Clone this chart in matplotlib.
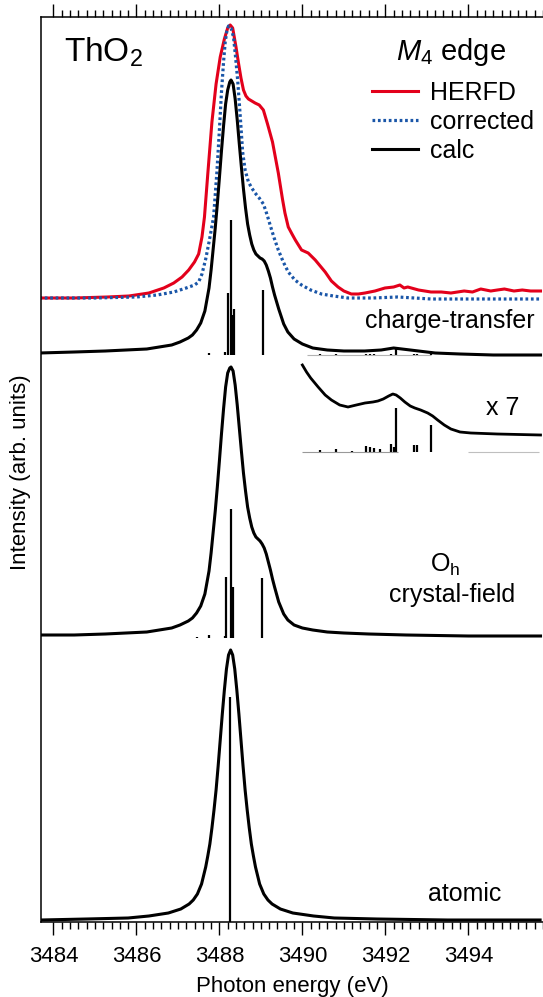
import numpy as np
import matplotlib
matplotlib.use("Agg")
import matplotlib.pyplot as plt

plt.rcParams['font.family'] = ['Liberation Sans', 'DejaVu Sans']
plt.rcParams['mathtext.fontset'] = 'custom'
plt.rcParams['mathtext.rm'] = 'Liberation Sans'
plt.rcParams['mathtext.it'] = 'Liberation Sans:italic'
plt.rcParams['lines.solid_joinstyle'] = 'round'

# HERFD measured spectrum (eV, arb.)
e_herfd = [3483.66, 3484.5, 3485.3, 3485.82, 3486.30, 3486.66, 3486.90, 3487.10, 3487.26,
           3487.40, 3487.50, 3487.58, 3487.64, 3487.72, 3487.82, 3487.92, 3488.02, 3488.12,
           3488.20, 3488.26, 3488.32, 3488.40, 3488.46, 3488.52, 3488.58, 3488.64, 3488.70,
           3488.86, 3488.96, 3489.06, 3489.16, 3489.28, 3489.42, 3489.52, 3489.58, 3489.66,
           3489.75, 3489.83, 3489.98, 3490.14, 3490.31, 3490.45, 3490.55, 3490.70, 3490.86,
           3491.00, 3491.18, 3491.35, 3491.51, 3491.75, 3491.99, 3492.20, 3492.35, 3492.45,
           3492.54, 3492.80, 3493.10, 3493.35, 3493.58, 3493.90, 3494.10, 3494.30, 3494.54,
           3494.70, 3494.87, 3495.10, 3495.30, 3495.50, 3495.74]
i_herfd = [624, 624, 625, 626, 629, 634, 639, 645, 652,
           660, 668, 685, 705, 748, 800, 838, 865, 883,
           894, 897, 894, 875, 859, 844, 832, 826, 823,
           819, 817, 812, 798, 780, 749, 723, 709, 695,
           688, 682, 672, 669, 662, 655, 650, 641, 635,
           631, 628, 628, 629, 631, 634, 635, 637, 634,
           635, 632, 630, 630, 629, 631, 630, 633, 631,
           632, 633, 631, 632, 631, 631]

# self-absorption corrected
e_corr = [3483.66, 3485.0, 3486.0, 3486.5, 3486.9, 3487.2, 3487.40, 3487.50, 3487.58,
          3487.67, 3487.76, 3487.86, 3487.94, 3488.00, 3488.05, 3488.10, 3488.14, 3488.18,
          3488.22, 3488.28, 3488.34, 3488.39, 3488.44, 3488.48, 3488.52, 3488.56, 3488.62,
          3488.70, 3488.78, 3488.86, 3488.96, 3489.06, 3489.12, 3489.18, 3489.23, 3489.32,
          3489.42, 3489.54, 3489.66, 3489.82, 3489.98, 3490.20, 3490.46, 3490.75, 3491.10,
          3491.7, 3492.30, 3493.10, 3494.5, 3495.74]
i_corr = [624, 624, 625, 627, 630, 634, 637, 640, 648,
          663, 682, 705, 750, 792, 830, 860, 880, 891,
          896, 894, 885, 865, 842, 819, 795, 770, 752,
          740, 734, 729, 724, 718, 711, 703, 696, 684,
          672, 660, 650, 642, 637, 632, 628, 626, 624,
          624, 625, 623, 623, 623]

# charge-transfer calculation
e_ct = [3483.66, 3484.50, 3485.25, 3485.75, 3486.25, 3486.55, 3486.85, 3487.05, 3487.25,
        3487.35, 3487.45, 3487.55, 3487.65, 3487.75, 3487.80, 3487.85, 3487.90, 3487.95,
        3488.00, 3488.05, 3488.10, 3488.15, 3488.20, 3488.25, 3488.28, 3488.33, 3488.38,
        3488.43, 3488.48, 3488.53, 3488.58, 3488.63, 3488.68, 3488.73, 3488.78, 3488.83,
        3488.88, 3488.93, 3488.98, 3489.03, 3489.08, 3489.13, 3489.18, 3489.23, 3489.28,
        3489.33, 3489.43, 3489.55, 3489.65, 3489.80, 3490.00, 3490.25, 3490.60, 3491.00,
        3491.50, 3491.90, 3492.20, 3492.40, 3492.80, 3493.20, 3493.80, 3494.60, 3495.74]
i_ct = [569, 570, 571, 572, 573, 575, 577, 580, 584,
        587, 592, 599, 611, 634, 652, 673, 694, 718,
        744, 771, 796, 818, 832, 840, 842, 838, 823,
        802, 778, 755, 733, 714, 698, 687, 678, 672,
        668, 666, 664, 663, 661, 657, 651, 644, 635,
        627, 613, 598, 590, 583, 578, 574, 572, 571,
        571, 572, 574, 573, 571, 569, 568, 567, 567]

# charge-transfer x 7 inset
e_x7 = [3490.00, 3490.10, 3490.20, 3490.38, 3490.55, 3490.70, 3490.90, 3491.10, 3491.30,
        3491.51, 3491.70, 3491.82, 3491.95, 3492.08, 3492.18, 3492.26, 3492.36, 3492.47,
        3492.60, 3492.71, 3492.85, 3493.02, 3493.14, 3493.26, 3493.42, 3493.58, 3493.80,
        3494.06, 3494.70, 3495.74]
i_x7 = [557, 550, 544, 535, 527, 522, 517, 515, 517,
        519, 520, 521, 523, 526, 528, 527, 524, 520,
        516, 514, 512, 509, 506, 502, 497, 493, 490,
        489, 488, 487]

# Oh crystal-field calculation
e_cf = [3483.66, 3484.50, 3485.25, 3485.75, 3486.25, 3486.55, 3486.85, 3487.05, 3487.25,
        3487.35, 3487.45, 3487.55, 3487.65, 3487.75, 3487.80, 3487.85, 3487.90, 3487.95,
        3488.00, 3488.05, 3488.10, 3488.15, 3488.20, 3488.25, 3488.28, 3488.33, 3488.38,
        3488.43, 3488.48, 3488.53, 3488.58, 3488.63, 3488.68, 3488.73, 3488.78, 3488.83,
        3488.88, 3488.93, 3488.98, 3489.03, 3489.08, 3489.13, 3489.18, 3489.23, 3489.28,
        3489.33, 3489.43, 3489.55, 3489.65, 3489.80, 3490.00, 3490.25, 3490.60, 3491.00,
        3491.60, 3492.50, 3494.00, 3495.74]
i_cf = [287, 287, 288, 289, 290, 292, 294, 297, 301,
        304, 309, 316, 328, 351, 369, 390, 411, 435,
        461, 488, 513, 535, 549, 554, 555, 551, 537,
        517, 494, 471, 449, 431, 415, 404, 395, 389,
        385, 383, 381, 378, 374, 368, 360, 352, 343,
        335, 320, 308, 302, 297, 294, 292, 290, 289,
        288, 287, 286, 286]

# atomic calculation
e_at = [3483.70, 3484.80, 3485.80, 3486.30, 3486.77, 3487.07, 3487.27, 3487.37, 3487.47,
        3487.57, 3487.67, 3487.72, 3487.77, 3487.82, 3487.87, 3487.92, 3487.97, 3488.02,
        3488.07, 3488.12, 3488.17, 3488.22, 3488.27, 3488.32, 3488.37, 3488.42, 3488.47,
        3488.52, 3488.57, 3488.62, 3488.67, 3488.72, 3488.77, 3488.82, 3488.87, 3488.97,
        3489.07, 3489.17, 3489.27, 3489.47, 3489.77, 3490.27, 3490.77, 3491.80, 3493.50,
        3495.73]
i_at = [2, 3, 4, 6, 9, 13, 18, 22, 28,
        38, 55, 66, 78, 94, 112, 132, 156, 182,
        208, 232, 253, 267, 272, 267, 253, 232, 208,
        182, 156, 132, 112, 94, 78, 66, 55, 38,
        28, 22, 18, 13, 9, 6, 4, 3, 2,
        2]

# stick spectra: energies, heights, baselines
ct_base = 567
e_ct_st = [3487.74, 3488.13, 3488.21, 3488.28, 3488.32, 3488.35, 3489.05,
           3490.43, 3490.82, 3491.54, 3491.63, 3491.73, 3492.14, 3492.26, 3492.70, 3492.77, 3493.09]
h_ct_st = [2, 3, 62, 135, 40, 46, 65,
           0.5, 0.5, 1, 0.8, 0.6, 1.2, 6, 1, 1, 4]

x7_base = 470
e_x7_st = [3490.43, 3490.82, 3491.20, 3491.54, 3491.63, 3491.73, 3491.87, 3492.14, 3492.20,
           3492.26, 3492.70, 3492.77, 3493.09]
h_x7_st = [2, 3, 1, 6, 5, 4, 3, 8, 5, 44, 7, 7, 27]

cf_base = 284
e_cf_st = [3487.45, 3487.74, 3488.13, 3488.17, 3488.28, 3488.33, 3489.03]
h_cf_st = [1, 3, 2, 61, 129, 51, 60]

at_base = 0
e_at_st = [3488.26]
h_at_st = [225]

red = '#e3001b'
blue = '#1a56a8'

fig = plt.figure(figsize=(5.43, 9.97), dpi=100)
ax = fig.add_axes([41/543, 75/997, 502/543, 905/997])

ax.plot(e_herfd, i_herfd, color=red, lw=2.2, label='HERFD')
ax.plot(e_corr, i_corr, color=blue, lw=2.3, ls=(0, (0.85, 0.85)), label='corrected')
ax.plot(e_ct, i_ct, color='k', lw=2.2, label='calc')
ax.plot(e_x7, i_x7, color='k', lw=2.0)
ax.plot(e_cf, i_cf, color='k', lw=2.2)
ax.plot(e_at, i_at, color='k', lw=2.2)

for es, hs, b in [(e_ct_st, h_ct_st, ct_base), (e_x7_st, h_x7_st, x7_base),
                  (e_cf_st, h_cf_st, cf_base), (e_at_st, h_at_st, at_base)]:
    ax.vlines(es, b, np.array(hs) + b, color='k', lw=1.6)

# faint baselines of the tiny sticks
ax.hlines(ct_base, 3490.1, 3493.1, color='0.7', lw=0.8)
ax.hlines(x7_base, 3490.0, 3492.3, color='0.6', lw=0.8)
ax.hlines(x7_base, 3494.0, 3495.7, color='0.75', lw=0.8)

ax.set_xlim(3483.70, 3495.73)
ax.set_ylim(0, 905)

ax.text(3484.26, 860, 'ThO$_2$', fontsize=24, ha='left', va='baseline')
ax.text(3492.26, 862, '$M_4$ edge', fontsize=21, ha='left', va='baseline')
ax.text(3495.59, 594, 'charge-transfer', fontsize=18, ha='right', va='baseline')
ax.text(3494.42, 507, 'x 7', fontsize=18, ha='left', va='baseline')
ax.text(3493.45, 350, 'O$_\\mathregular{h}$', fontsize=18, ha='center', va='baseline')
ax.text(3493.61, 320, 'crystal-field', fontsize=18, ha='center', va='baseline')
ax.text(3493.92, 21, 'atomic', fontsize=18, ha='center', va='baseline')

ax.legend(loc='upper left', bbox_to_anchor=(3491.68, 841), bbox_transform=ax.transData,
          frameon=False, fontsize=18, handlelength=1.84, handletextpad=0.48,
          labelspacing=0.2, borderpad=0, borderaxespad=0)

ax.set_xticks(np.arange(3484, 3496, 2))
ax.set_xticks(np.arange(3484, 3495.8, 0.2), minor=True)
ax.tick_params(axis='x', which='both', direction='out', top=True, bottom=True,
               labelsize=16, width=1.0, pad=8)
ax.tick_params(axis='x', which='major', length=9.5)
ax.tick_params(axis='x', which='minor', length=5)
ax.set_yticks([569])
ax.set_yticklabels([])
ax.tick_params(axis='y', direction='in', length=9, width=1.3)

ax.spines['right'].set_visible(False)
for s in ['left', 'top', 'bottom']:
    ax.spines[s].set_linewidth(1.1)

ax.set_xlabel('Photon energy (eV)', fontsize=16, labelpad=6)
fig.text(21/543, 1 - 472/997, 'Intensity (arb. units)', fontsize=16, rotation=90,
         ha='center', va='center')

fig.savefig('out.png', dpi=100)
